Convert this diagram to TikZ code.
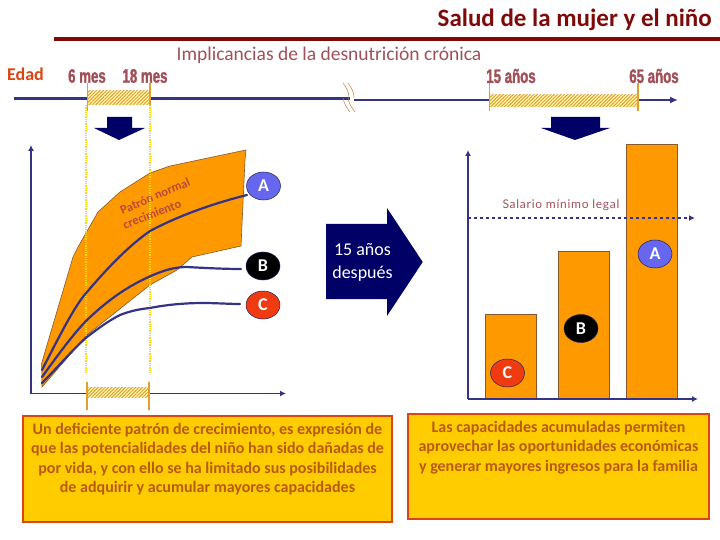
\documentclass[tikz,border=0pt]{standalone}
\usepackage{fontspec}
\setmainfont{Carlito}
\newfontfamily\agefont[FakeStretch=0.68,FakeBold=1.5]{Liberation Sans}
\newfontfamily\handfont[LetterSpace=6]{Lato}
\usepackage{xcolor}
\usetikzlibrary{arrows.meta}
\usetikzlibrary{patterns.meta}
\usetikzlibrary{shapes.geometric}
\definecolor{dbrown}{HTML}{7F0A0A}
\definecolor{lbrown}{HTML}{A05058}
\definecolor{dindigo}{HTML}{333388}
\definecolor{dnavy}{HTML}{000066}
\definecolor{lorange}{HTML}{FF9900}
\definecolor{tickorange}{HTML}{E0A030}
\definecolor{lgold}{HTML}{FFCC00}
\definecolor{boxred}{HTML}{DD4411}
\definecolor{boxtext}{HTML}{B85A10}
\definecolor{labA}{HTML}{6666EE}
\definecolor{labC}{HTML}{F03A10}
\tikzstyle{axis}=[line width=1.8pt,dindigo,-{Latex[length=6pt,width=6pt]}]
\tikzstyle{timeline}=[line width=2.6pt,dindigo]
\tikzstyle{hatched}=[preaction={fill=yellow!30!white},pattern={Lines[angle=45,distance=2.4pt,line width=1pt]},pattern color=tickorange]
\tikzstyle{agetick}=[line width=1.5pt,tickorange]
\tikzstyle{guide}=[line width=1.3pt,yellow!75!orange,densely dotted]
\tikzstyle{growth}=[line width=2.2pt,dindigo,line cap=round]
\tikzstyle{breakmark}=[line width=.5pt,brown]
\tikzstyle{agelabel}=[lbrown,font=\agefont\bfseries\fontsize{19.5}{19.5}\selectfont,inner sep=0pt]
\tikzstyle{bar}=[draw=brown!70!black,line width=.8pt,fill=lorange]
\tikzstyle{lab}=[ellipse,draw=dindigo!70!black,line width=.5pt,minimum width=34pt,minimum height=28pt,inner sep=0pt,font=\bfseries\fontsize{18}{18}\selectfont,text=white]
\tikzstyle{notebox}=[draw=boxred,line width=2.2pt,fill=lgold]
\tikzstyle{notetext}=[align=center,text=boxtext,font=\bfseries\fontsize{16}{19.3}\selectfont,inner sep=0pt,anchor=north]
\begin{document}
\begin{tikzpicture}[x=1pt,y=-1pt]
	\path[use as bounding box] (0,0) rectangle (720,540);
	% heading
	\node[anchor=east,text=dbrown,font=\bfseries\fontsize{25}{25}\selectfont,inner sep=0pt] (title) at (712,20) {Salud de la mujer y el niño};
	\coordinate (ruleL) at (54,39);
	\coordinate (ruleR) at (720,39);
	\draw[line width=3.6pt,dbrown] (ruleL) -- (ruleR);
	\node[text=lbrown,font=\fontsize{19.5}{19.5}\selectfont,inner sep=0pt] (sub) at (329,55) {Implicancias de la desnutrición crónica};
	\node[text=boxred,font=\bfseries\fontsize{18}{18}\selectfont,inner sep=0pt] (edad) at (25.5,74.5) {Edad};
	\node[agelabel] (m6) at (87,76) {6 mes};
	\node[agelabel] (m18) at (145,76) {18 mes};
	\node[agelabel] (a15) at (511,76) {15 años};
	\node[agelabel] (a65) at (654,76) {65 años};
	% time line
	\coordinate (tlA) at (14,98.5);
	\coordinate (tlB) at (350,98.5);
	\coordinate (tlC) at (354,100);
	\coordinate (tlD) at (678,100);
	\draw[timeline] (tlA) -- (tlB);
	\draw[timeline,-{Latex[length=8pt,width=7pt]}] (tlC) -- (tlD);
	\foreach \dx in {0,5}{
		\draw[breakmark] (343+\dx,83) .. controls (347+\dx,88) and (349+\dx,93) .. (349+\dx,98);
		\draw[breakmark] (343+\dx,98) .. controls (344+\dx,104) and (347+\dx,108) .. (350+\dx,112);
	}
	\path[hatched] (87,91) rectangle (150,105);
	\path[hatched] (489,95) rectangle (638,107);
	\draw[agetick] (87.5,83) -- (87.5,111);
	\draw[agetick] (150,83) -- (150,105);
	\draw[agetick] (489.5,83) -- (489.5,111);
	\draw[agetick] (638,83) -- (638,111);
	% down arrows
	\fill[dnavy] (107,117) -- (132,117) -- (132,128) -- (145,128) -- (119,140) -- (94,128) -- (107,128) -- cycle;
	\fill[dnavy] (551,117) -- (600,117) -- (600,128) -- (610,128) -- (575,140) -- (541,128) -- (551,128) -- cycle;
	% left chart
	\fill[lorange,draw=brown!70!black,line width=.6pt] (42,387) -- (41.7,363) -- (73,257) -- (78,247) -- (98,212) -- (120,192) -- (150,173) -- (170,166) -- (246,150) -- (245,160) -- (241,246) -- (192,257) -- (177,270) -- (150,285) -- (87,335) -- cycle;
	\node[text=lbrown!60!boxred,rotate=23,font=\bfseries\fontsize{12.5}{12.5}\selectfont,inner sep=0pt] (normal) at (155,196) {Patrón normal};
	\node[text=lbrown!60!boxred,rotate=21,font=\bfseries\fontsize{12.5}{12.5}\selectfont,inner sep=0pt] (creci) at (152,214) {crecimiento};
	\draw[guide] (86,105) -- (86,373);
	\draw[guide] (150,105) -- (150,373);
	\node[lab,fill=labA] (a) at (263.5,186) {A};
	\node[lab,fill=black] (b) at (263,266) {B};
	\node[lab,fill=labC] (c) at (263,305) {C};
	\coordinate (o1) at (31,393.5);
	\coordinate (y1) at (31,145);
	\coordinate (x1) at (286,393.5);
	\coordinate (endA) at (247,195);
	\coordinate (endB) at (241,269);
	\coordinate (endC) at (240,304);
	\draw[axis] (o1) -- (y1);
	\draw[axis] (o1) -- (x1);
	\draw[growth] (42,370) .. controls (60,335) and (75,305) .. (87,292) .. controls (110,265) and (130,245) .. (150,231) .. controls (180,215) and (215,203) .. (endA);
	\draw[growth] (42,377) .. controls (60,352) and (75,332) .. (87,320) .. controls (110,298) and (130,285) .. (153,275) .. controls (165,270) and (175,267) .. (187,267) .. controls (205,268) and (225,269) .. (endB);
	\draw[growth] (42,383) .. controls (60,365) and (75,347) .. (87,337) .. controls (100,327) and (110,320) .. (120,315) .. controls (130,311) and (140,309) .. (150,308) .. controls (170,304) and (190,303) .. (203,303) .. controls (215,303) and (230,304) .. (endC);
	\path[hatched] (87,387) rectangle (149,397);
	\draw[agetick] (87,382) -- (87,410);
	\draw[agetick] (149,382) -- (149,410);
	% big arrow
	\fill[dnavy] (326,224) -- (387,224) -- (387,208) -- (422.7,262) -- (387,316) -- (387,299) -- (326,299) -- cycle;
	\node[align=center,text=white,font=\fontsize{18}{23}\selectfont,inner sep=0pt] (later) at (362.5,262.5) {15 años\\después};
	% right chart
	\draw[bar] (485,314) rectangle (536,399);
	\draw[bar] (558.5,251) rectangle (609.5,399);
	\draw[bar] (626.5,144) rectangle (677.5,399);
	\coordinate (o2) at (468,399);
	\coordinate (y2) at (468,150);
	\coordinate (x2) at (698,399);
	\coordinate (s1) at (468,218);
	\coordinate (s2) at (695,218);
	\draw[axis] (o2) -- (y2);
	\draw[axis] (o2) -- (x2);
	\draw[dindigo,line width=1.2pt,dashed,-{Latex[length=6pt,width=6pt]}] (s1) -- (s2);
	\node[text=lbrown,font=\handfont\fontsize{12}{12}\selectfont,inner sep=0pt] (wage) at (561,205.5) {Salario mínimo legal};
	\node[lab,fill=labA] (a2) at (655,254) {A};
	\node[lab,fill=black] (b2) at (581,328.5) {B};
	\node[lab,fill=labC] (c2) at (507.5,373) {C};
	% notes
	\draw[notebox] (23,416) rectangle (392,522);
	\draw[notebox] (408,414) rectangle (709,519);
	\node[notetext] (noteL) at (207.5,423) {Un deficiente patrón de crecimiento, es expresión de\\que las potencialidades del niño han sido dañadas de\\por vida, y con ello se ha limitado sus posibilidades\\de adquirir y acumular mayores capacidades};
	\node[notetext] (noteR) at (558.5,421) {Las capacidades acumuladas permiten\\aprovechar las oportunidades económicas\\y generar mayores ingresos para la familia};
\end{tikzpicture}
\end{document}
